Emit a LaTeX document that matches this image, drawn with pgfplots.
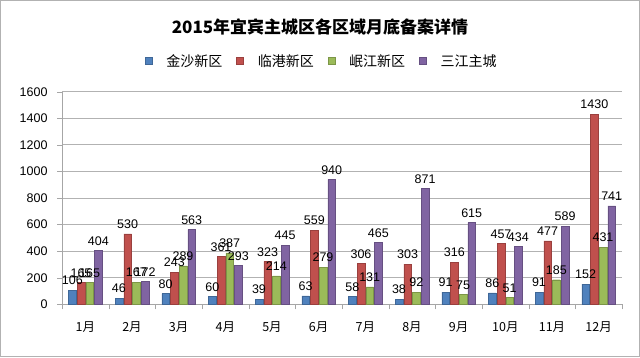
\documentclass[border=0pt]{standalone}
\usepackage{fontspec}
\setmainfont{Liberation Sans}
\newfontfamily\cjk{Noto Sans CJK SC}
\usepackage{pgfplots}
\pgfplotsset{compat=1.18}
\definecolor{cA}{HTML}{4F81BD}
\definecolor{cB}{HTML}{C0504D}
\definecolor{cC}{HTML}{9BBB59}
\definecolor{cD}{HTML}{8064A2}
\begin{document}
\begin{tikzpicture}[x=1pt,y=1pt]
\draw[gray!60, line width=1.2pt] (0.6,0.6) rectangle (639.4,356.4);
\begin{axis}[
  at={(62pt,52.7pt)}, anchor=south west,
  scale only axis, width=560pt, height=212.6pt,
  xmin=-0.5, xmax=11.5, ymin=0, ymax=1600,
  ytick={0,200,...,1600},
  xtick={0,...,11},
  xticklabels={1月,2月,3月,4月,5月,6月,7月,8月,9月,10月,11月,12月},
  x tick label style={font=\cjk\fontsize{12.5}{13}\selectfont, yshift=-9pt},
  y tick label style={font=\fontsize{12.5}{13}\selectfont, xshift=-6pt},
  /pgf/number format/assume math mode=true,
  /pgf/number format/1000 sep={},
  minor xtick={-0.5,0.5,...,11.5},
  major x tick style={draw=none},
  minor x tick style={gray!70},
  tick align=outside, major tick length=5pt, minor tick length=5pt,
  ymajorgrids, grid style={gray!60, line width=0.8pt},
  axis lines*=left, axis line style={gray!70, line width=0.8pt},
  y tick style={gray!70},
  ybar=1pt, bar width=7.7pt,
  nodes near coords,
  every node near coord/.append style={font=\fontsize{12.5}{13}\selectfont, black, inner sep=1pt, yshift=4pt},
  legend columns=4,
  legend style={at={(0.464,1.144)}, anchor=center, draw=none, font=\cjk\fontsize{14}{15}\selectfont, column sep=12pt},
  legend image code/.code={\fill[#1] (0pt,-3.5pt) rectangle (7pt,3.5pt);},
]
\addplot[fill=cA, draw=cA!80!black] coordinates {(0,106) (1,46) (2,80) (3,60) (4,39) (5,63) (6,58) (7,38) (8,91) (9,86) (10,91) (11,152)};
\addplot[fill=cB, draw=cB!80!black] coordinates {(0,165) (1,530) (2,243) (3,361) (4,323) (5,559) (6,306) (7,303) (8,316) (9,457) (10,477) (11,1430)};
\addplot[fill=cC, draw=cC!80!black] coordinates {(0,165) (1,167) (2,289) (3,387) (4,214) (5,279) (6,131) (7,92) (8,75) (9,51) (10,185) (11,431)};
\addplot[fill=cD, draw=cD!80!black] coordinates {(0,404) (1,172) (2,563) (3,293) (4,445) (5,940) (6,465) (7,871) (8,615) (9,434) (10,589) (11,741)};
\legend{金沙新区,临港新区,岷江新区,三江主城}
\end{axis}
\node[font=\cjk\bfseries\fontsize{17}{19}\selectfont] at (320pt,330pt) {2015年宜宾主城区各区域月底备案详情};
\end{tikzpicture}
\end{document}
